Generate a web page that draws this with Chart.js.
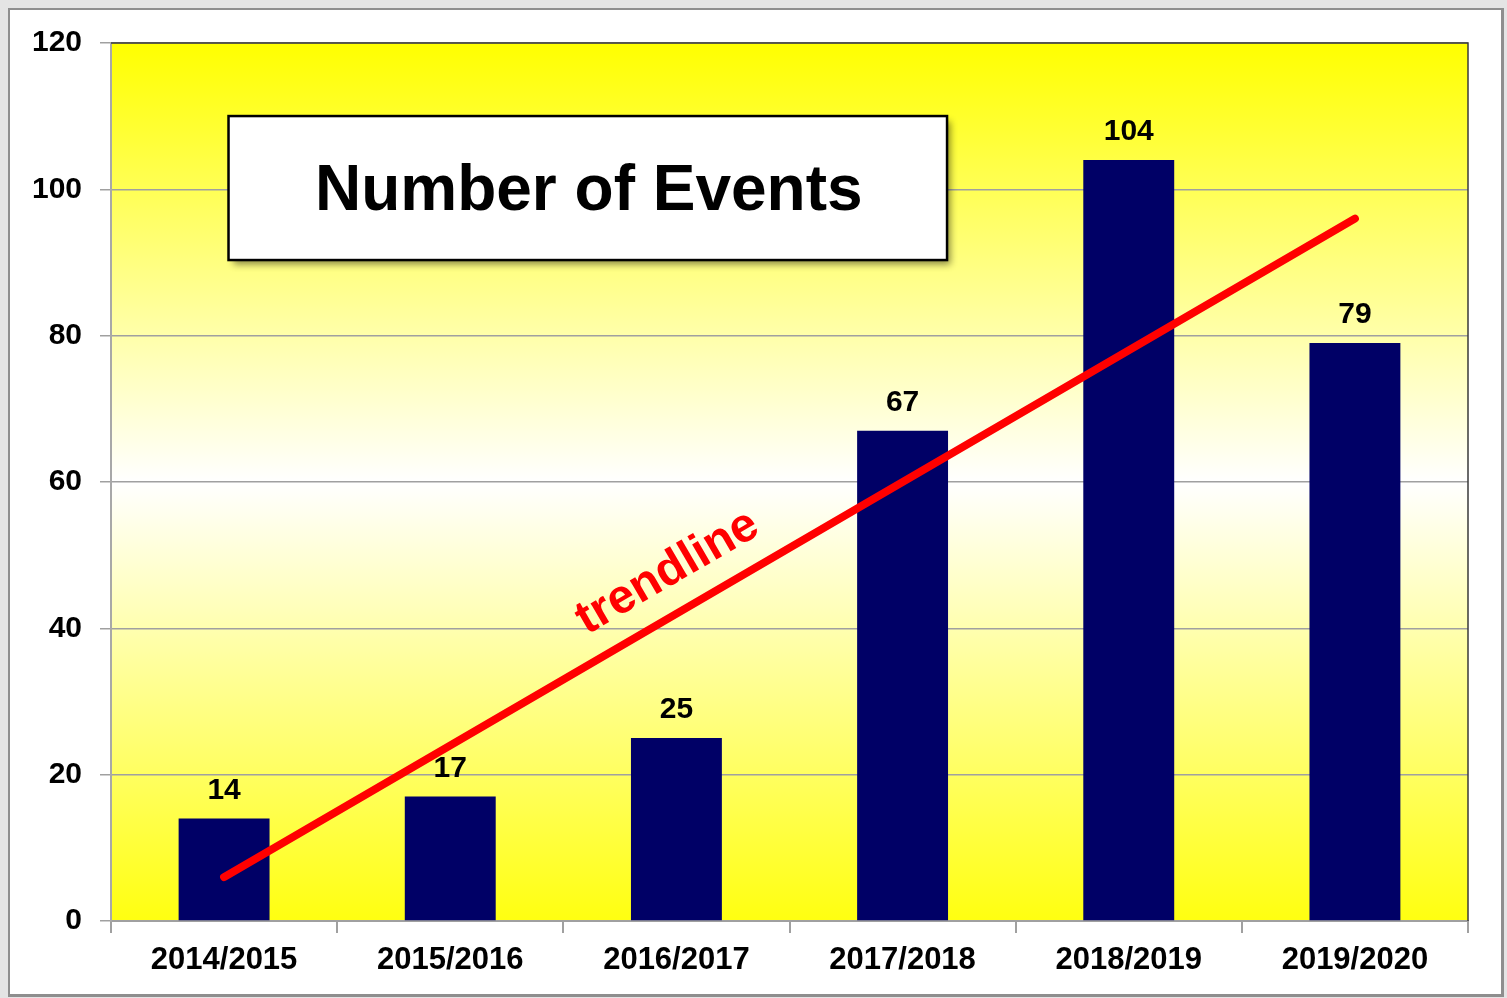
<!DOCTYPE html>
<html>
<head>
<meta charset="utf-8">
<script src="https://cdn.jsdelivr.net/npm/chart.js@4.4.1/dist/chart.umd.min.js"></script>
<style>
  html, body { margin: 0; padding: 0; background: #e4e4e4; }
  #wrap { position: absolute; left: 0; top: 0; width: 1507px; height: 998px; }
  #panel { position: absolute; left: 8px; top: 8px; width: 1491px; height: 984px;
           background: #ffffff; border: 2px solid #8e8e8e; border-right-width: 3px; border-bottom-width: 3px; }
  canvas { position: absolute; left: 0; top: 0; }
</style>
</head>
<body>
<div id="wrap">
  <div id="panel"></div>
  <canvas id="c" width="1507" height="998"></canvas>
</div>
<script>
// ---- data ----
const categories = ['2014/2015', '2015/2016', '2016/2017', '2017/2018', '2018/2019', '2019/2020'];
const eventCounts = [14, 17, 25, 67, 104, 79];
const trendValues = [6, null, null, null, null, 96];
const yTicks = [0, 20, 40, 60, 80, 100, 120];
const titleText = 'Number of Events';
const trendLabel = 'trendline';

const FONT = '"Liberation Sans", Arial, Helvetica, sans-serif';

const bgPlugin = {
  id: 'bgPlugin',
  beforeDraw(chart) {
    const { ctx, chartArea: a } = chart;
    const g = ctx.createLinearGradient(0, a.top, 0, a.bottom);
    g.addColorStop(0, '#ffff00');
    g.addColorStop(0.5, '#ffffff');
    g.addColorStop(1, '#ffff10');
    ctx.save();
    ctx.fillStyle = g;
    ctx.fillRect(a.left, a.top, a.right - a.left, a.bottom - a.top);
    ctx.restore();
  },
  afterDatasetsDraw(chart) {
    const { ctx, chartArea: a } = chart;
    // data labels
    const barMeta = chart.getDatasetMeta(0);
    ctx.save();
    ctx.fillStyle = '#000';
    ctx.font = 'bold 30px ' + FONT;
    ctx.textAlign = 'center';
    ctx.textBaseline = 'alphabetic';
    barMeta.data.forEach((bar, i) => {
      ctx.fillText(String(eventCounts[i]), bar.x, bar.y - 20);
    });
    ctx.restore();

    // trendline label
    const lm = chart.getDatasetMeta(1).data;
    const p0 = lm[0], p1 = lm[5];
    const ang = Math.atan2(p1.y - p0.y, p1.x - p0.x);
    const t = 0.41;
    const fx = p0.x + (p1.x - p0.x) * t;
    const fy = p0.y + (p1.y - p0.y) * t;
    const off = 40;
    const cx = fx + Math.sin(ang) * off;
    const cy = fy - Math.cos(ang) * off;
    ctx.save();
    ctx.translate(cx, cy);
    ctx.rotate(ang);
    ctx.fillStyle = '#ff0000';
    ctx.font = 'bold 48px ' + FONT;
    ctx.textAlign = 'center';
    ctx.textBaseline = 'middle';
    ctx.fillText(trendLabel, 0, 0);
    ctx.restore();

    // title box (position relative to chart area)
    const w = a.right - a.left, h = a.bottom - a.top;
    const bx = a.left + w * 0.0866, by = a.top + h * 0.0832;
    const bw = w * 0.5295, bh = h * 0.164;
    ctx.save();
    ctx.shadowColor = 'rgba(0,0,0,0.45)';
    ctx.shadowBlur = 7;
    ctx.shadowOffsetX = 4;
    ctx.shadowOffsetY = 5;
    ctx.fillStyle = '#ffffff';
    ctx.fillRect(bx, by, bw, bh);
    ctx.restore();
    ctx.save();
    ctx.strokeStyle = '#000';
    ctx.lineWidth = 2.5;
    ctx.strokeRect(bx, by, bw, bh);
    ctx.fillStyle = '#000';
    ctx.font = 'bold 64px ' + FONT;
    ctx.textAlign = 'center';
    ctx.textBaseline = 'middle';
    ctx.fillText(titleText, bx + bw / 2 + 1, by + bh / 2 + 4);
    ctx.restore();

    // top and right frame
    ctx.save();
    ctx.strokeStyle = '#3a3a3a';
    ctx.lineWidth = 1.5;
    ctx.beginPath();
    ctx.moveTo(a.left, a.top);
    ctx.lineTo(a.right, a.top);
    ctx.lineTo(a.right, a.bottom);
    ctx.stroke();
    ctx.restore();
  }
};

new Chart(document.getElementById('c'), {
  type: 'bar',
  data: {
    labels: categories,
    datasets: [
      {
        type: 'bar',
        data: eventCounts,
        backgroundColor: '#000066',
        borderWidth: 0,
        barPercentage: 1,
        categoryPercentage: 0.402,
        order: 2
      },
      {
        type: 'line',
        data: trendValues,
        spanGaps: true,
        borderColor: '#ff0000',
        borderWidth: 8,
        borderCapStyle: 'round',
        pointRadius: 0,
        fill: false,
        order: 1
      }
    ]
  },
  options: {
    responsive: false,
    animation: false,
    devicePixelRatio: 1,
    layout: { padding: { top: 43, right: 39, left: 0, bottom: 0 } },
    plugins: { legend: { display: false }, tooltip: { enabled: false } },
    scales: {
      x: {
        grid: { offset: true, drawOnChartArea: false, drawTicks: true, tickLength: 12, color: '#a0a0a0', lineWidth: 2 },
        border: { display: true, color: '#a0a0a0', width: 2 },
        ticks: { color: '#000', font: { family: FONT, size: 31, weight: 'bold' }, padding: 9, maxRotation: 0 },
        afterFit(scale) { scale.height = 77; }
      },
      y: {
        min: 0, max: 120,
        afterBuildTicks(scale) { scale.ticks = yTicks.map(v => ({ value: v })); },
        grid: { color: '#a0a0a0', lineWidth: 1.5, tickLength: 11 },
        border: { display: true, color: '#a8a8a8', width: 2 },
        ticks: { color: '#000', font: { family: FONT, size: 30, weight: 'bold' }, padding: 18 },
        afterFit(scale) { scale.width = 111; }
      }
    }
  },
  plugins: [bgPlugin]
});
</script>
</body>
</html>
